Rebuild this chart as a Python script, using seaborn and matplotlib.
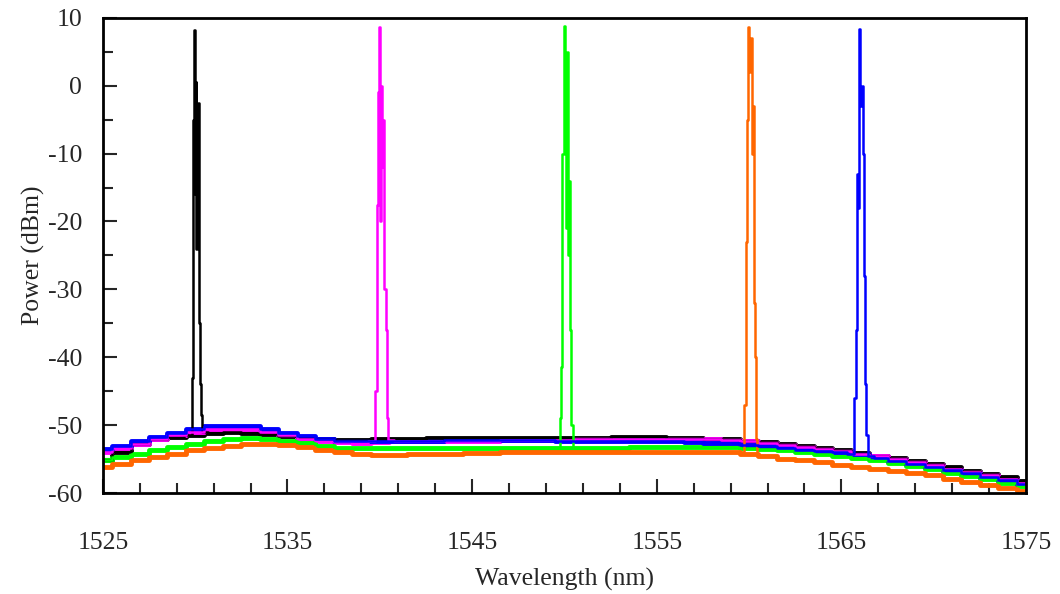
import matplotlib
matplotlib.use("Agg")
import matplotlib.pyplot as plt
from matplotlib.ticker import FixedLocator
import numpy as np
import pandas as pd
import seaborn as sns

sns.set_style("ticks")
plt.rcParams['font.family'] = ['Liberation Serif', 'DejaVu Serif']
plt.rcParams['axes.unicode_minus'] = False

# baseline (ASE floor) read every 1 nm, 1525..1575
base_wl = list(range(1525, 1576))
base_black = [-55.2, -54.0, -52.8, -52.1, -51.7, -51.4, -51.1, -51.0, -51.1, -51.3,
              -51.6, -51.9, -52.1, -52.2, -52.2, -52.1, -52.0, -52.0, -51.9, -51.9,
              -51.9, -51.9, -51.9, -51.9, -51.9, -51.9, -51.9, -51.9, -51.8, -51.8,
              -51.8, -51.9, -51.9, -52.0, -52.1, -52.3, -52.5, -52.8, -53.1, -53.4,
              -53.7, -54.1, -54.5, -54.9, -55.3, -55.7, -56.2, -56.7, -57.2, -57.7, -58.2]
base_magenta = [-54.0, -53.4, -52.8, -52.1, -51.5, -51.0, -50.6, -50.5, -50.6, -51.0,
                -51.5, -52.0, -52.3, -52.5, -52.6, -52.5, -52.4, -52.4, -52.3, -52.3,
                -52.3, -52.3, -52.2, -52.2, -52.2, -52.2, -52.1, -52.1, -52.0, -52.0,
                -52.0, -52.0, -52.0, -52.1, -52.2, -52.3, -52.6, -52.9, -53.2, -53.5,
                -53.8, -54.2, -54.6, -55.0, -55.5, -55.9, -56.4, -56.9, -57.4, -57.9, -58.5]
base_green = [-55.2, -54.7, -54.2, -53.7, -53.2, -52.8, -52.4, -52.1, -51.9, -52.0,
              -52.3, -52.7, -53.0, -53.3, -53.4, -53.4, -53.4, -53.4, -53.4, -53.4,
              -53.4, -53.4, -53.4, -53.4, -53.4, -53.4, -53.3, -53.3, -53.3, -53.2,
              -53.2, -53.2, -53.2, -53.2, -53.2, -53.3, -53.5, -53.7, -53.9, -54.2,
              -54.5, -54.8, -55.2, -55.6, -56.0, -56.5, -57.0, -57.5, -58.0, -58.5, -59.0]
base_orange = [-56.2, -55.7, -55.2, -54.7, -54.2, -53.7, -53.3, -53.0, -52.8, -52.8,
               -52.9, -53.2, -53.6, -54.0, -54.3, -54.4, -54.4, -54.3, -54.2, -54.2,
               -54.1, -54.1, -54.0, -54.0, -54.0, -54.0, -54.0, -54.0, -54.0, -54.0,
               -54.0, -54.0, -54.0, -54.0, -54.0, -54.2, -54.6, -55.0, -55.2, -55.5,
               -55.8, -56.1, -56.4, -56.8, -57.1, -57.4, -57.9, -58.4, -58.8, -59.2, -59.7]
base_blue = [-53.5, -53.0, -52.4, -51.8, -51.2, -50.6, -50.2, -50.1, -50.2, -50.6,
             -51.1, -51.6, -52.0, -52.3, -52.4, -52.4, -52.4, -52.3, -52.3, -52.2,
             -52.2, -52.2, -52.2, -52.2, -52.2, -52.3, -52.3, -52.3, -52.3, -52.4,
             -52.4, -52.4, -52.5, -52.6, -52.7, -52.9, -53.1, -53.4, -53.6, -53.8,
             -54.0, -54.3, -54.8, -55.3, -55.7, -56.1, -56.6, -57.1, -57.6, -58.1, -58.7]

# laser lines
peak_black_wl = [1529.80, 1529.88, 1529.92, 1529.96, 1530.00, 1530.04, 1530.08,
                 1530.12, 1530.16, 1530.20, 1530.24, 1530.30, 1530.36, 1530.42]
peak_black = [-51.5, -43.0, -5.0, 8.2, -16.0, 0.5, -24.0,
              -3.0, -10.0, -2.5, -35.0, -44.0, -48.5, -51.0]
peak_magenta_wl = [1539.70, 1539.80, 1539.86, 1539.92, 1539.98, 1540.04, 1540.10,
                   1540.16, 1540.22, 1540.28, 1540.34, 1540.42, 1540.50]
peak_magenta = [-52.4, -45.0, -17.5, -1.0, 8.7, -20.0, 0.0,
                -12.0, -5.0, -30.0, -36.0, -49.0, -52.2]
peak_green_wl = [1549.70, 1549.80, 1549.86, 1549.92, 1549.98, 1550.04, 1550.10,
                 1550.16, 1550.22, 1550.28, 1550.34, 1550.40, 1550.50]
peak_green = [-53.4, -49.0, -41.5, -10.0, 8.8, 1.0, -21.0,
              5.0, -25.0, -14.0, -36.0, -50.0, -53.4]
peak_orange_wl = [1559.70, 1559.80, 1559.86, 1559.92, 1559.98, 1560.04, 1560.10,
                  1560.16, 1560.22, 1560.28, 1560.34, 1560.40, 1560.50]
peak_orange = [-54.0, -47.0, -23.0, -5.0, 8.7, 2.0, 7.0,
               -10.0, -3.0, -32.0, -40.0, -52.0, -54.6]
peak_blue_wl = [1565.65, 1565.75, 1565.82, 1565.88, 1565.94, 1566.00, 1566.06,
                1566.12, 1566.18, 1566.24, 1566.30, 1566.38, 1566.48]
peak_blue = [-54.2, -46.0, -36.0, -13.0, -18.0, 8.3, -3.0,
             0.0, -10.0, -28.0, -44.0, -51.5, -54.5]

x_major = [1525, 1535, 1545, 1555, 1565, 1575]
y_major = [10, 0, -10, -20, -30, -40, -50, -60]

names = ['black', 'magenta', 'green', 'orange', 'blue']
colors = ['#000000', '#ff00ff', '#00ff00', '#ff6600', '#0000ff']
bases = [base_black, base_magenta, base_green, base_orange, base_blue]
peaks = [(peak_black_wl, peak_black), (peak_magenta_wl, peak_magenta),
         (peak_green_wl, peak_green), (peak_orange_wl, peak_orange),
         (peak_blue_wl, peak_blue)]

base_rows, full_rows = [], []
for name, base, (pwl, pp) in zip(names, bases, peaks):
    for w, p in zip(base_wl, base):
        base_rows.append((name, w, p))
        if not (pwl[0] <= w <= pwl[-1]):
            full_rows.append((name, w, p))
    for w, p in zip(pwl, pp):
        full_rows.append((name, w, p))
base_df = pd.DataFrame(base_rows, columns=['trace', 'wl', 'power'])
full_df = pd.DataFrame(full_rows, columns=['trace', 'wl', 'power']).sort_values(['trace', 'wl'])

fig, ax = plt.subplots(figsize=(10.6, 5.94), dpi=100)
fig.subplots_adjust(left=0.097, right=0.968, top=0.970, bottom=0.170)

palette = dict(zip(names, colors))
sns.lineplot(data=base_df, x='wl', y='power', hue='trace', hue_order=names,
             palette=palette, estimator=None, sort=True, legend=False,
             drawstyle='steps-mid', lw=3.5, ax=ax)
sns.lineplot(data=full_df, x='wl', y='power', hue='trace', hue_order=names,
             palette=palette, estimator=None, sort=True, legend=False,
             drawstyle='steps-mid', lw=1.8, ax=ax)

ax.set_xlim(1525, 1575)
ax.set_ylim(-60, 10)
ax.set_xticks(x_major)
ax.xaxis.set_minor_locator(FixedLocator(np.arange(1527, 1575, 2)))
ax.set_yticks(y_major)
ax.yaxis.set_minor_locator(FixedLocator(np.arange(-55, 10, 10)))
ax.tick_params(which='both', direction='in', top=False, right=False,
               labelsize=18.5, width=1.5)
ax.tick_params(axis='x', which='major', length=10, pad=28)
ax.tick_params(axis='y', which='major', length=10, pad=15)
ax.tick_params(which='minor', length=7)
for s in ax.spines.values():
    s.set_linewidth(2)
    s.set_color('black')

ax.set_xlabel('Wavelength (nm)', fontsize=18.5, labelpad=10)
ax.set_ylabel('Power (dBm)', fontsize=18.5, labelpad=2)

fig.savefig('out.png', dpi=100)
